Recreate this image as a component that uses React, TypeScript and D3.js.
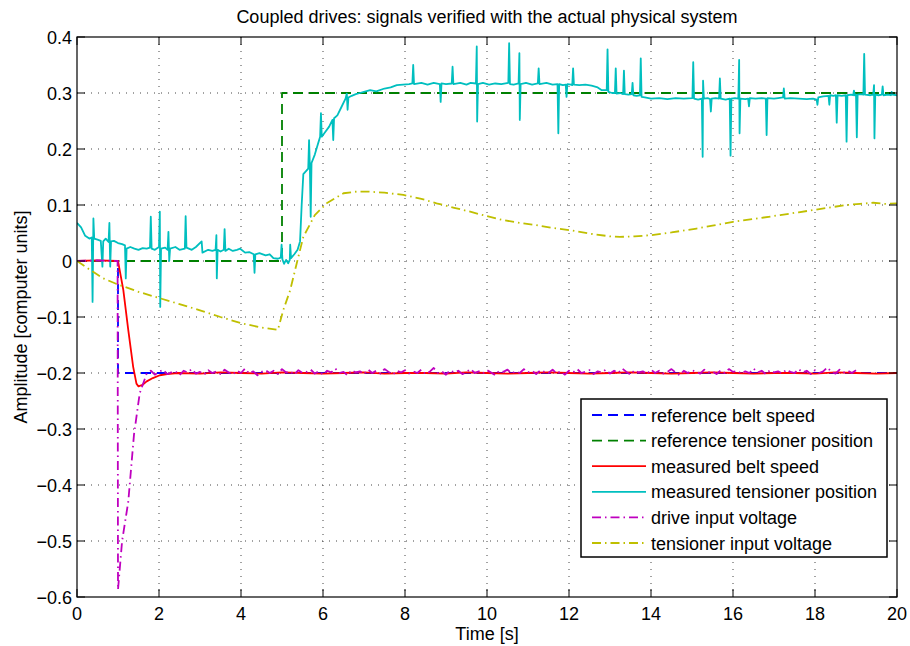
import React from "react";
import * as d3 from "d3";

// ---- data ----
const xTicks = [0, 2, 4, 6, 8, 10, 12, 14, 16, 18, 20];
const yTicks = [-0.6, -0.5, -0.4, -0.3, -0.2, -0.1, 0, 0.1, 0.2, 0.3, 0.4];

const refBeltSpeed: [number, number][] = [[0, 0], [1, 0], [1, -0.2], [20, -0.2]];
const refTensioner: [number, number][] = [[0, 0], [5, 0], [5, 0.3], [20, 0.3]];

const measBeltSpeed: [number, number][] = [
  [0, 0], [0.5, 0.001], [1.0, 0], [1.05, -0.02], [1.13, -0.052], [1.25, -0.123], [1.37, -0.189],
  [1.45, -0.219], [1.5, -0.224], [1.6, -0.221], [1.7, -0.215], [1.85, -0.209], [2.02, -0.204],
  [2.2, -0.202], [2.45, -0.2], [3, -0.201], [3.5, -0.199], [4, -0.2], [4.5, -0.201], [5, -0.199],
  [5.5, -0.2], [6, -0.201], [6.5, -0.2], [7, -0.199], [7.5, -0.201], [8, -0.2], [8.5, -0.2],
  [9, -0.201], [9.5, -0.199], [10, -0.2], [10.5, -0.201], [11, -0.2], [11.5, -0.199], [12, -0.2],
  [12.5, -0.201], [13, -0.2], [13.5, -0.199], [14, -0.2], [14.5, -0.201], [15, -0.2], [15.5, -0.199],
  [16, -0.2], [16.5, -0.201], [17, -0.2], [17.5, -0.2], [18, -0.201], [18.5, -0.199], [19, -0.2],
  [19.5, -0.201], [20, -0.2],
];

const measTensioner: [number, number][] = [
  [0, 0.068], [0.1, 0.06], [0.2, 0.045], [0.3, 0.04], [0.36, 0.042], [0.38, -0.073], [0.4, 0.076],
  [0.42, 0.04], [0.5, 0.038], [0.58, 0.036], [0.62, -0.01], [0.64, 0.035], [0.7, 0.04], [0.77, 0.034],
  [0.79, 0.068], [0.81, -0.01], [0.83, 0.035], [0.9, 0.036], [1.0, 0.032], [1.1, 0.03], [1.17, 0.028],
  [1.19, -0.031], [1.21, 0.022], [1.3, 0.025], [1.4, 0.022], [1.5, 0.02], [1.6, 0.023], [1.7, 0.022],
  [1.78, 0.024], [1.8, 0.079], [1.82, 0.022], [1.9, 0.02], [2.0, 0.025], [2.02, 0.088], [2.03, -0.082],
  [2.05, 0.022], [2.15, 0.024], [2.21, 0.02], [2.23, 0.052], [2.25, 0.0], [2.27, 0.022], [2.4, 0.025],
  [2.5, 0.02], [2.63, 0.022], [2.65, 0.08], [2.67, 0.024], [2.8, 0.02], [2.9, 0.025], [3.04, 0.035],
  [3.06, 0.015], [3.2, 0.02], [3.3, 0.018], [3.38, 0.02], [3.4, 0.046], [3.41, -0.031], [3.43, 0.02],
  [3.5, 0.017], [3.58, 0.02], [3.6, 0.057], [3.62, 0.018], [3.7, 0.022], [3.8, 0.018], [3.9, 0.02],
  [3.98, 0.022], [4.1, 0.015], [4.2, 0.016], [4.31, 0.012], [4.33, -0.021], [4.35, 0.012], [4.45, 0.014],
  [4.6, 0.01], [4.7, 0.012], [4.79, 0.005], [4.9, 0.004], [4.97, 0.006], [4.99, 0.029], [5.01, 0.003],
  [5.05, -0.005], [5.1, 0.002], [5.15, -0.004], [5.19, 0.002], [5.2, 0.029], [5.22, 0.005], [5.3, 0.012],
  [5.38, 0.02], [5.44, 0.035], [5.48, 0.1], [5.52, 0.155], [5.58, 0.16], [5.64, 0.165], [5.66, 0.216],
  [5.68, 0.168], [5.7, 0.079], [5.72, 0.175], [5.8, 0.19], [5.88, 0.21], [5.93, 0.222], [5.95, 0.264],
  [5.97, 0.222], [6.05, 0.23], [6.15, 0.24], [6.23, 0.252], [6.25, 0.216], [6.27, 0.255], [6.35, 0.26],
  [6.45, 0.275], [6.55, 0.29], [6.58, 0.299], [6.6, 0.27], [6.62, 0.292], [6.7, 0.295], [6.8, 0.298],
  [6.9, 0.3], [7.0, 0.302], [7.15, 0.305], [7.3, 0.303], [7.5, 0.308], [7.65, 0.31], [7.8, 0.314],
  [7.95, 0.315], [8.1, 0.316], [8.18, 0.317], [8.2, 0.35], [8.22, 0.316], [8.4, 0.318], [8.55, 0.315],
  [8.7, 0.318], [8.85, 0.316], [8.87, 0.284], [8.89, 0.317], [9.0, 0.316], [9.14, 0.317], [9.16, 0.347],
  [9.18, 0.316], [9.35, 0.318], [9.5, 0.315], [9.6, 0.318], [9.73, 0.317], [9.75, 0.383], [9.76, 0.249],
  [9.78, 0.316], [9.9, 0.318], [10.05, 0.315], [10.2, 0.317], [10.35, 0.316], [10.52, 0.318],
  [10.54, 0.389], [10.56, 0.316], [10.65, 0.315], [10.77, 0.317], [10.79, 0.371], [10.8, 0.252],
  [10.82, 0.316], [10.95, 0.318], [11.1, 0.315], [11.24, 0.317], [11.26, 0.344], [11.28, 0.316],
  [11.45, 0.318], [11.6, 0.315], [11.72, 0.316], [11.74, 0.228], [11.76, 0.316], [11.85, 0.314],
  [11.92, 0.315], [11.94, 0.293], [11.96, 0.316], [12.05, 0.315], [12.08, 0.314], [12.1, 0.344],
  [12.12, 0.315], [12.25, 0.314], [12.4, 0.315], [12.55, 0.313], [12.7, 0.31], [12.8, 0.305],
  [12.92, 0.305], [12.94, 0.378], [12.96, 0.302], [13.05, 0.3], [13.12, 0.3], [13.14, 0.344],
  [13.16, 0.299], [13.25, 0.3], [13.32, 0.298], [13.34, 0.34], [13.36, 0.298], [13.45, 0.297],
  [13.53, 0.298], [13.55, 0.318], [13.57, 0.296], [13.65, 0.295], [13.73, 0.296], [13.75, 0.362],
  [13.77, 0.293], [13.85, 0.292], [14.0, 0.29], [14.2, 0.291], [14.4, 0.289], [14.6, 0.291],
  [14.8, 0.29], [15.01, 0.291], [15.03, 0.355], [15.05, 0.29], [15.15, 0.288], [15.24, 0.29],
  [15.26, 0.186], [15.27, 0.322], [15.29, 0.29], [15.38, 0.291], [15.44, 0.289], [15.46, 0.267],
  [15.48, 0.29], [15.58, 0.291], [15.66, 0.29], [15.68, 0.326], [15.7, 0.29], [15.82, 0.288],
  [15.92, 0.29], [15.94, 0.188], [15.96, 0.29], [16.05, 0.291], [16.13, 0.29], [16.15, 0.359],
  [16.16, 0.228], [16.18, 0.29], [16.3, 0.289], [16.37, 0.29], [16.39, 0.276], [16.41, 0.291],
  [16.55, 0.29], [16.7, 0.291], [16.8, 0.29], [16.82, 0.225], [16.84, 0.291], [17.0, 0.29],
  [17.1, 0.291], [17.22, 0.292], [17.24, 0.308], [17.26, 0.29], [17.4, 0.291], [17.6, 0.29],
  [17.8, 0.289], [17.95, 0.29], [18.04, 0.288], [18.06, 0.279], [18.08, 0.292], [18.2, 0.294],
  [18.33, 0.295], [18.35, 0.279], [18.37, 0.296], [18.45, 0.295], [18.51, 0.296], [18.53, 0.247],
  [18.55, 0.296], [18.65, 0.295], [18.75, 0.296], [18.77, 0.213], [18.79, 0.296], [18.88, 0.297],
  [18.93, 0.296], [18.95, 0.304], [18.97, 0.296], [19.0, 0.297], [19.02, 0.221], [19.04, 0.297],
  [19.12, 0.298], [19.18, 0.297], [19.2, 0.37], [19.22, 0.297], [19.35, 0.296], [19.42, 0.297],
  [19.44, 0.314], [19.45, 0.219], [19.47, 0.297], [19.55, 0.296], [19.63, 0.297], [19.65, 0.312],
  [19.67, 0.296], [19.78, 0.297], [19.85, 0.296], [19.87, 0.302], [19.89, 0.297], [20, 0.296],
];

// drive voltage: transient, then samples every 0.1 s from 1.7 s
const driveTransient: [number, number][] = [
  [0, 0], [0.5, 0.001], [0.99, 0], [1.0, -0.587], [1.1, -0.5], [1.25, -0.43], [1.39, -0.31],
  [1.53, -0.236],
];
const driveStart = 1.7;
const driveStep = 0.1;
const driveSamples = [
  -0.201, -0.196, -0.203, -0.198, -0.194, -0.202, -0.199, -0.197, -0.204, -0.196,
  -0.199, -0.193, -0.201, -0.198, -0.203, -0.195, -0.2, -0.197, -0.202, -0.194,
  -0.199, -0.203, -0.196, -0.2, -0.192, -0.201, -0.197, -0.204, -0.198, -0.195,
  -0.2, -0.196, -0.202, -0.193, -0.199, -0.197, -0.203, -0.195, -0.2, -0.198,
  -0.194, -0.201, -0.197, -0.203, -0.196, -0.199, -0.192, -0.2, -0.198, -0.204,
  -0.195, -0.199, -0.197, -0.202, -0.194, -0.2, -0.196, -0.201, -0.193, -0.198,
  -0.203, -0.196, -0.199, -0.195, -0.201, -0.197, -0.2, -0.194, -0.202, -0.198,
  -0.191, -0.2, -0.197, -0.203, -0.195, -0.199, -0.196, -0.202, -0.198, -0.193,
  -0.2, -0.197, -0.201, -0.195, -0.199, -0.204, -0.196, -0.198, -0.194, -0.201,
  -0.197, -0.2, -0.193, -0.199, -0.196, -0.202, -0.195, -0.198, -0.2, -0.194,
  -0.201, -0.197, -0.203, -0.196, -0.199, -0.193, -0.2, -0.198, -0.195, -0.202,
  -0.197, -0.199, -0.194, -0.201, -0.196, -0.2, -0.192, -0.198, -0.203, -0.195,
  -0.199, -0.197, -0.202, -0.194, -0.2, -0.196, -0.201, -0.198, -0.193, -0.199,
  -0.204, -0.196, -0.2, -0.195, -0.198, -0.201, -0.194, -0.199, -0.197, -0.202,
  -0.195, -0.2, -0.193, -0.198, -0.196, -0.201, -0.197, -0.2, -0.192, -0.199,
  -0.196, -0.202, -0.195, -0.199, -0.197, -0.201, -0.194, -0.198, -0.2, -0.193,
  -0.199, -0.196, -0.202, -0.195, -0.2, -0.197, -0.19, -0.198, -0.201, -0.194,
  -0.199, -0.196, -0.2, -0.195,
];

const tensionerVoltage: [number, number][] = [
  [0, 0], [0.3, -0.015], [0.64, -0.031], [1.0, -0.042], [1.5, -0.055], [2.0, -0.066], [2.5, -0.077],
  [3.0, -0.088], [3.5, -0.1], [4.0, -0.111], [4.5, -0.119], [4.9, -0.123], [5.03, -0.088],
  [5.2, -0.052], [5.36, -0.004], [5.52, 0.043], [5.8, 0.082], [6.09, 0.103], [6.5, 0.121],
  [6.82, 0.124], [7.1, 0.124], [7.5, 0.122], [7.96, 0.118], [8.4, 0.111], [8.77, 0.103],
  [9.2, 0.095], [9.59, 0.088], [10.0, 0.08], [10.4, 0.073], [10.8, 0.068], [11.2, 0.064],
  [11.6, 0.059], [12.02, 0.055], [12.5, 0.049], [13.0, 0.044], [13.24, 0.043], [13.6, 0.044],
  [13.98, 0.046], [14.5, 0.051], [15.11, 0.058], [15.5, 0.063], [16.0, 0.07], [16.6, 0.076],
  [17.15, 0.082], [17.6, 0.087], [17.96, 0.091], [18.4, 0.096], [18.77, 0.1], [19.1, 0.102],
  [19.42, 0.104], [19.7, 0.102], [20, 0.103],
];

const legendLabels = [
  "reference belt speed",
  "reference tensioner position",
  "measured belt speed",
  "measured tensioner position",
  "drive input voltage",
  "tensioner input voltage",
];

const FONT = "'Liberation Sans', Arial, Helvetica, sans-serif";

export default function App() {
  const W = 910, H = 646;
  const margin = { left: 77, right: 13, top: 37, bottom: 49 };
  const x = d3.scaleLinear().domain([0, 20]).range([margin.left, W - margin.right]);
  const y = d3.scaleLinear().domain([-0.6, 0.4]).range([H - margin.bottom, margin.top]);

  const line = d3.line<[number, number]>().x(d => x(d[0])).y(d => y(d[1]));

  const driveData: [number, number][] = driveTransient.concat(
    driveSamples.map((v, i) => [driveStart + i * driveStep, v] as [number, number])
  );

  const series = [
    { data: refBeltSpeed, color: "#0000ff", dash: "10,6" },
    { data: refTensioner, color: "#008000", dash: "10,6" },
    { data: measBeltSpeed, color: "#ff0000", dash: null },
    { data: measTensioner, color: "#00bfbf", dash: null },
    { data: driveData, color: "#bf00bf", dash: "9,4,1.5,4" },
    { data: tensionerVoltage, color: "#bfbf00", dash: "9,4,1.5,4" },
  ];

  const x0 = margin.left, x1 = W - margin.right, y0 = margin.top, y1 = H - margin.bottom;
  const fmt = (v: number) => {
    const s = d3.format(".1f")(Math.abs(v));
    const t = Math.abs(v) < 1e-9 ? "0" : s;
    return v < -1e-9 ? "\u2212" + t : t;
  };

  const legX = 581, legY = 399, legW = 306, legH = 158, rowH = 25.6;

  return (
    <svg width={W} height={H} style={{ position: "absolute", left: 0, top: 0, background: "#fff" }} fontFamily={FONT}>
      <rect x={0} y={0} width={W} height={H} fill="#fff" />
      <defs>
        <clipPath id="plotclip">
          <rect x={x0} y={y0} width={x1 - x0} height={y1 - y0} />
        </clipPath>
      </defs>

      {/* grid */}
      <g stroke="#444" strokeWidth={1} strokeDasharray="1,6">
        {xTicks.slice(1, -1).map(t => (
          <line key={"gx" + t} x1={x(t)} x2={x(t)} y1={y0} y2={y1} />
        ))}
        {yTicks.slice(1, -1).map(t => (
          <line key={"gy" + t} x1={x0} x2={x1} y1={y(t)} y2={y(t)} />
        ))}
      </g>

      {/* data */}
      <g clipPath="url(#plotclip)" fill="none" strokeWidth={1.8} strokeLinejoin="round">
        {series.map((s, i) => (
          <path key={i} d={line(s.data) || ""} stroke={s.color} strokeDasharray={s.dash || undefined} />
        ))}
      </g>

      {/* box and ticks */}
      <rect x={x0} y={y0} width={x1 - x0} height={y1 - y0} fill="none" stroke="#000" strokeWidth={1.2} />
      <g stroke="#000" strokeWidth={1}>
        {xTicks.map(t => (
          <g key={"tx" + t}>
            <line x1={x(t)} x2={x(t)} y1={y1} y2={y1 - 8} />
            <line x1={x(t)} x2={x(t)} y1={y0} y2={y0 + 8} />
          </g>
        ))}
        {yTicks.map(t => (
          <g key={"ty" + t}>
            <line x1={x0} x2={x0 + 8} y1={y(t)} y2={y(t)} />
            <line x1={x1} x2={x1 - 8} y1={y(t)} y2={y(t)} />
          </g>
        ))}
      </g>
      <g fontSize={18} fill="#000">
        {xTicks.map(t => (
          <text key={"lx" + t} x={x(t)} y={y1 + 23} textAnchor="middle">{t}</text>
        ))}
        {yTicks.map(t => (
          <text key={"ly" + t} x={x0 - 5} y={y(t) + 6.5} textAnchor="end">{fmt(t)}</text>
        ))}
      </g>

      {/* titles */}
      <text x={(x0 + x1) / 2} y={23} textAnchor="middle" fontSize={18}>
        Coupled drives: signals verified with the actual physical system
      </text>
      <text x={(x0 + x1) / 2} y={640} textAnchor="middle" fontSize={18}>Time [s]</text>
      <text transform={`translate(27,${(y0 + y1) / 2}) rotate(-90)`} textAnchor="middle" fontSize={18}>
        Amplitude [computer units]
      </text>

      {/* legend */}
      <rect x={legX} y={legY} width={legW} height={legH} fill="#fff" stroke="#000" strokeWidth={1.5} />
      {series.map((s, i) => {
        const cy = legY + 16 + i * rowH;
        return (
          <g key={"leg" + i}>
            <line x1={legX + 11} x2={legX + 65} y1={cy} y2={cy} stroke={s.color} strokeWidth={1.8}
              strokeDasharray={s.dash || undefined} />
            <text x={legX + 70} y={cy + 6.5} fontSize={18}>{legendLabels[i]}</text>
          </g>
        );
      })}
    </svg>
  );
}
